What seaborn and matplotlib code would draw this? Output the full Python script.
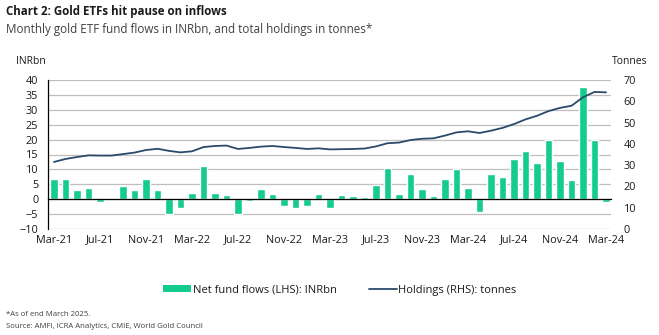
import numpy as np
import pandas as pd
import matplotlib
matplotlib.use("Agg")
import matplotlib.pyplot as plt
import seaborn as sns
from matplotlib.patches import Patch
from matplotlib.lines import Line2D

# Monthly data, Mar-21 to Mar-25
months = pd.date_range("2021-03-01", "2025-03-01", freq="MS").strftime("%b-%y").tolist()

net_flows_inrbn = [
    6.7, 6.8, 3.0, 3.7, -0.9, 0.3, 4.5, 3.1, 6.9, 3.2, -5.0, -2.8,
    2.1, 11.1, 2.1, 1.5, -4.9, -0.6, 3.4, 1.7, -2.2, -2.9, -2.2, 1.8,
    -2.9, 1.3, 1.1, 0.8, 4.7, 10.4, 1.8, 8.5, 3.5, 1.0, 6.7, 10.1,
    3.8, -4.4, 8.4, 7.4, 13.4, 16.1, 12.3, 19.7, 12.7, 6.5, 37.5, 19.8,
    -1.1,
]

holdings_tonnes = [
    31.5, 32.9, 33.8, 34.6, 34.5, 34.5, 35.2, 35.9, 37.1, 37.7, 36.7, 36.0,
    36.5, 38.5, 39.0, 39.2, 37.6, 38.1, 38.7, 39.0, 38.5, 38.1, 37.6, 37.9,
    37.4, 37.5, 37.6, 37.8, 38.8, 40.3, 40.6, 41.8, 42.4, 42.6, 43.9, 45.4,
    45.9, 45.1, 46.2, 47.5, 49.3, 51.5, 53.2, 55.4, 56.9, 57.9, 61.9, 64.4,
    64.2,
]

tick_labels = ["Mar-21", "Jul-21", "Nov-21", "Mar-22", "Jul-22", "Nov-22",
               "Mar-23", "Jul-23", "Nov-23", "Mar-24", "Jul-24", "Nov-24", "Mar-24"]

GREEN = "#13CC8E"
NAVY = "#2A4A6C"
GRID = "#BFBFBF"
TEXT = "#1A1A1A"

sns.set_theme(style="white")
plt.rcParams["font.family"] = ["Open Sans", "DejaVu Sans"]

df = pd.DataFrame({
    "month": months,
    "pos": np.arange(len(months)),
    "flows": net_flows_inrbn,
    "holdings": holdings_tonnes,
})

fig = plt.figure(figsize=(6.59, 3.35), dpi=100)
ax = fig.add_axes([48 / 659, 1 - 229 / 335, (611 - 48) / 659, (229 - 80) / 335])

sns.barplot(data=df, x="month", y="flows", order=months, color=GREEN,
            saturation=1, width=0.65, ax=ax, zorder=2)

ax.set_xlim(-0.52, len(months) - 1 + 0.43)
ax.set_ylim(-10, 40)
ax.set_yticks(np.arange(-10, 41, 5))
ax.set_axisbelow(True)
ax.yaxis.grid(True, color=GRID, linewidth=0.9)
ax.xaxis.grid(False)
ax.set_xlabel("")
ax.set_ylabel("")
ax.tick_params(axis="y", length=0, pad=7, labelsize=7.8, labelcolor=TEXT)

for side in ["top", "right"]:
    ax.spines[side].set_visible(False)
ax.spines["left"].set_color("black")
ax.spines["left"].set_linewidth(0.9)
ax.spines["bottom"].set_position(("data", 0))
ax.spines["bottom"].set_color("black")
ax.spines["bottom"].set_linewidth(0.9)

# small tick marks on the zero line at every fourth month boundary
label_pos = np.arange(0, len(months), 4)
ax.set_xticks(label_pos - 0.5)
ax.set_xticklabels([])
ax.tick_params(axis="x", direction="out", length=3, width=0.9, color="black")

# month labels along the bottom of the plot
sec = ax.secondary_xaxis("bottom")
sec.set_xticks(label_pos)
sec.set_xticklabels(tick_labels)
sec.tick_params(axis="x", length=0, pad=4, labelsize=7.8, labelcolor=TEXT)
sec.spines["bottom"].set_visible(False)

# holdings on the right-hand axis
ax2 = ax.twinx()
sns.lineplot(data=df, x="pos", y="holdings", color=NAVY, linewidth=1.3, ax=ax2)
ax2.set_ylim(0, 70)
ax2.set_yticks(np.arange(0, 71, 10))
ax2.set_xlabel("")
ax2.set_ylabel("")
ax2.tick_params(axis="y", length=0, pad=9, labelsize=7.8, labelcolor=TEXT)
for side in ["top", "right", "left", "bottom"]:
    ax2.spines[side].set_visible(False)
ax2.grid(False)
ax.set_xlim(-0.52, len(months) - 1 + 0.43)

fig.text(6 / 659, 1 - 11 / 335, "Chart 2: Gold ETFs hit pause on inflows",
         fontsize=8.3, fontweight="bold", color=TEXT, va="center", ha="left")
fig.text(6 / 659, 1 - 29 / 335,
         "Monthly gold ETF fund flows in INRbn, and total holdings in tonnes*",
         fontsize=8.4, color="#404040", va="center", ha="left")
fig.text(16 / 659, 1 - 62 / 335, "INRbn", fontsize=7.5, color=TEXT,
         va="center", ha="left")
fig.text(612 / 659, 1 - 62 / 335, "Tonnes", fontsize=7.5, color=TEXT,
         va="center", ha="left")

handles = [Patch(facecolor=GREEN, edgecolor="none"),
           Line2D([0], [0], color=NAVY, linewidth=1.3)]
fig.legend(handles, ["Net fund flows (LHS): INRbn", "Holdings (RHS): tonnes"],
           loc="center", bbox_to_anchor=(340 / 659, 1 - 290 / 335), ncol=2,
           frameon=False, fontsize=8, handlelength=2.5, handleheight=0.65,
           handletextpad=0.15, columnspacing=2.9, labelcolor=TEXT)

fig.text(6 / 659, 1 - 314 / 335, "*As of end March 2025.", fontsize=5.6,
         color="#404040", va="center", ha="left")
fig.text(6 / 659, 1 - 326 / 335,
         "Source: AMFI, ICRA Analytics, CMIE, World Gold Council", fontsize=5.6,
         color="#404040", va="center", ha="left")

fig.savefig("out.png", dpi=100)
